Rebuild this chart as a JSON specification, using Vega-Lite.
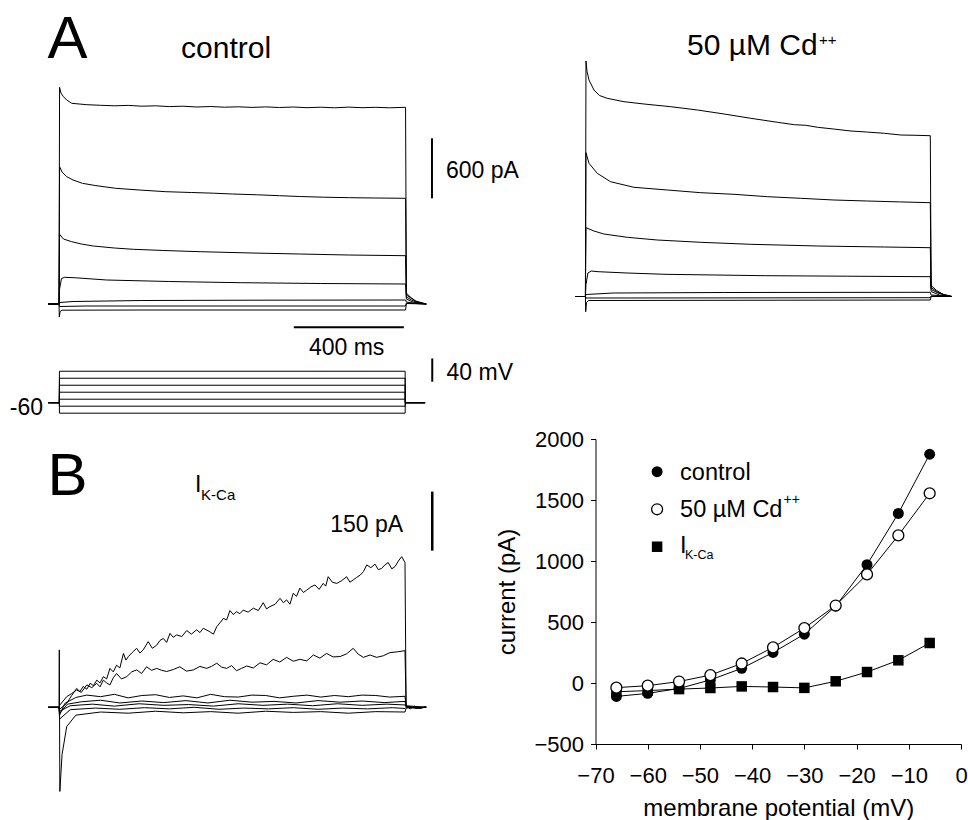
{
"$schema":"https://vega.github.io/schema/vega-lite/v6.json",
"width":968,"height":820,"padding":0,"autosize":{"type":"none"},
"background":"white",
"config":{"view":{"stroke":null},"text":{"font":"Liberation Sans","color":"black"},"axis":{"labelFont":"Liberation Sans","titleFont":"Liberation Sans"}},
"datasets":{
"ctrl":[
{"v":-6,"t":-40,"i":0},{"v":-6,"t":-1,"i":0},{"v":-6,"t":1,"i":2167},{"v":-6,"t":6,"i":2110},{"v":-6,"t":15,"i":2073},{"v":-6,"t":27,"i":2040},{"v":-6,"t":45,"i":2007},{"v":-6,"t":100,"i":1993},{"v":-6,"t":150,"i":1987},{"v":-6,"t":200,"i":1982},{"v":-6,"t":250,"i":1986},{"v":-6,"t":300,"i":1978},{"v":-6,"t":350,"i":1982},{"v":-6,"t":400,"i":1974},{"v":-6,"t":450,"i":1978},{"v":-6,"t":500,"i":1970},{"v":-6,"t":550,"i":1975},{"v":-6,"t":600,"i":1968},{"v":-6,"t":650,"i":1972},{"v":-6,"t":700,"i":1966},{"v":-6,"t":750,"i":1971},{"v":-6,"t":800,"i":1965},{"v":-6,"t":850,"i":1970},{"v":-6,"t":900,"i":1963},{"v":-6,"t":950,"i":1968},{"v":-6,"t":1000,"i":1962},{"v":-6,"t":1050,"i":1969},{"v":-6,"t":1100,"i":1963},{"v":-6,"t":1150,"i":1967},{"v":-6,"t":1200,"i":1962},{"v":-6,"t":1258,"i":1967},{"v":-6,"t":1261,"i":110},{"v":-6,"t":1275,"i":70},{"v":-6,"t":1295,"i":30},{"v":-6,"t":1333,"i":0},
{"v":-18,"t":-40,"i":0},{"v":-18,"t":-1,"i":0},{"v":-18,"t":1,"i":1373},{"v":-18,"t":10,"i":1320},{"v":-18,"t":27,"i":1273},{"v":-18,"t":50,"i":1240},{"v":-18,"t":84,"i":1207},{"v":-18,"t":130,"i":1185},{"v":-18,"t":205,"i":1157},{"v":-18,"t":290,"i":1140},{"v":-18,"t":387,"i":1123},{"v":-18,"t":480,"i":1115},{"v":-18,"t":560,"i":1108},{"v":-18,"t":630,"i":1100},{"v":-18,"t":720,"i":1092},{"v":-18,"t":800,"i":1083},{"v":-18,"t":873,"i":1075},{"v":-18,"t":960,"i":1068},{"v":-18,"t":1055,"i":1063},{"v":-18,"t":1150,"i":1060},{"v":-18,"t":1258,"i":1057},{"v":-18,"t":1261,"i":90},{"v":-18,"t":1280,"i":55},{"v":-18,"t":1300,"i":20},{"v":-18,"t":1333,"i":0},
{"v":-30,"t":-40,"i":0},{"v":-30,"t":-1,"i":0},{"v":-30,"t":1,"i":697},{"v":-30,"t":15,"i":650},{"v":-30,"t":45,"i":623},{"v":-30,"t":80,"i":600},{"v":-30,"t":124,"i":580},{"v":-30,"t":200,"i":560},{"v":-30,"t":269,"i":547},{"v":-30,"t":380,"i":535},{"v":-30,"t":512,"i":523},{"v":-30,"t":700,"i":510},{"v":-30,"t":873,"i":500},{"v":-30,"t":1050,"i":490},{"v":-30,"t":1258,"i":483},{"v":-30,"t":1261,"i":70},{"v":-30,"t":1280,"i":40},{"v":-30,"t":1300,"i":15},{"v":-30,"t":1333,"i":0},
{"v":-42,"t":-40,"i":0},{"v":-42,"t":-1,"i":0},{"v":-42,"t":1,"i":150},{"v":-42,"t":8,"i":255},{"v":-42,"t":20,"i":267},{"v":-42,"t":60,"i":262},{"v":-42,"t":172,"i":240},{"v":-42,"t":400,"i":225},{"v":-42,"t":657,"i":213},{"v":-42,"t":950,"i":205},{"v":-42,"t":1258,"i":200},{"v":-42,"t":1261,"i":50},{"v":-42,"t":1285,"i":20},{"v":-42,"t":1333,"i":0},
{"v":-54,"t":-40,"i":0},{"v":-54,"t":-1,"i":0},{"v":-54,"t":1,"i":15},{"v":-54,"t":50,"i":25},{"v":-54,"t":300,"i":35},{"v":-54,"t":700,"i":38},{"v":-54,"t":1258,"i":40},{"v":-54,"t":1261,"i":20},{"v":-54,"t":1300,"i":5},{"v":-54,"t":1333,"i":0},
{"v":-66,"t":-40,"i":0},{"v":-66,"t":-1,"i":0},{"v":-66,"t":1,"i":-25},{"v":-66,"t":100,"i":-20},{"v":-66,"t":1258,"i":-20},{"v":-66,"t":1261,"i":10},{"v":-66,"t":1333,"i":0},
{"v":-78,"t":-40,"i":0},{"v":-78,"t":-1,"i":0},{"v":-78,"t":0,"i":-130},{"v":-78,"t":3,"i":-75},{"v":-78,"t":10,"i":-62},{"v":-78,"t":300,"i":-60},{"v":-78,"t":1258,"i":-60},{"v":-78,"t":1261,"i":5},{"v":-78,"t":1333,"i":0}
],
"cd":[
{"v":-6,"t":-38,"i":0},{"v":-6,"t":-1,"i":0},{"v":-6,"t":1,"i":2355},{"v":-6,"t":5,"i":2250},{"v":-6,"t":12,"i":2165},{"v":-6,"t":30,"i":2065},{"v":-6,"t":50,"i":2010},{"v":-6,"t":78,"i":1982},{"v":-6,"t":139,"i":1948},{"v":-6,"t":212,"i":1925},{"v":-6,"t":309,"i":1898},{"v":-6,"t":406,"i":1865},{"v":-6,"t":503,"i":1825},{"v":-6,"t":600,"i":1782},{"v":-6,"t":697,"i":1742},{"v":-6,"t":758,"i":1718},{"v":-6,"t":800,"i":1712},{"v":-6,"t":843,"i":1692},{"v":-6,"t":900,"i":1675},{"v":-6,"t":964,"i":1655},{"v":-6,"t":1020,"i":1645},{"v":-6,"t":1085,"i":1632},{"v":-6,"t":1145,"i":1615},{"v":-6,"t":1200,"i":1612},{"v":-6,"t":1252,"i":1608},{"v":-6,"t":1255,"i":110},{"v":-6,"t":1275,"i":60},{"v":-6,"t":1300,"i":20},{"v":-6,"t":1330,"i":0},
{"v":-18,"t":-38,"i":0},{"v":-18,"t":-1,"i":0},{"v":-18,"t":1,"i":1438},{"v":-18,"t":12,"i":1332},{"v":-18,"t":42,"i":1232},{"v":-18,"t":90,"i":1148},{"v":-18,"t":175,"i":1092},{"v":-18,"t":297,"i":1065},{"v":-18,"t":418,"i":1038},{"v":-18,"t":539,"i":1022},{"v":-18,"t":660,"i":998},{"v":-18,"t":781,"i":982},{"v":-18,"t":902,"i":965},{"v":-18,"t":1023,"i":955},{"v":-18,"t":1140,"i":946},{"v":-18,"t":1252,"i":938},{"v":-18,"t":1255,"i":90},{"v":-18,"t":1275,"i":50},{"v":-18,"t":1300,"i":15},{"v":-18,"t":1330,"i":0},
{"v":-30,"t":-38,"i":0},{"v":-30,"t":-1,"i":0},{"v":-30,"t":1,"i":688},{"v":-30,"t":30,"i":655},{"v":-30,"t":66,"i":625},{"v":-30,"t":151,"i":592},{"v":-30,"t":260,"i":565},{"v":-30,"t":418,"i":542},{"v":-30,"t":600,"i":522},{"v":-30,"t":843,"i":505},{"v":-30,"t":1085,"i":495},{"v":-30,"t":1252,"i":488},{"v":-30,"t":1255,"i":70},{"v":-30,"t":1280,"i":35},{"v":-30,"t":1330,"i":0},
{"v":-42,"t":-38,"i":0},{"v":-42,"t":-1,"i":0},{"v":-42,"t":1,"i":120},{"v":-42,"t":8,"i":235},{"v":-42,"t":20,"i":255},{"v":-42,"t":45,"i":248},{"v":-42,"t":150,"i":235},{"v":-42,"t":288,"i":222},{"v":-42,"t":652,"i":208},{"v":-42,"t":950,"i":203},{"v":-42,"t":1252,"i":198},{"v":-42,"t":1255,"i":50},{"v":-42,"t":1285,"i":15},{"v":-42,"t":1330,"i":0},
{"v":-54,"t":-38,"i":0},{"v":-54,"t":-1,"i":0},{"v":-54,"t":1,"i":20},{"v":-54,"t":100,"i":35},{"v":-54,"t":500,"i":40},{"v":-54,"t":1252,"i":42},{"v":-54,"t":1255,"i":15},{"v":-54,"t":1330,"i":0},
{"v":-66,"t":-38,"i":0},{"v":-66,"t":-1,"i":0},{"v":-66,"t":1,"i":-15},{"v":-66,"t":1252,"i":-12},{"v":-66,"t":1255,"i":5},{"v":-66,"t":1330,"i":0},
{"v":-78,"t":-38,"i":0},{"v":-78,"t":-1,"i":0},{"v":-78,"t":0,"i":-152},{"v":-78,"t":3,"i":-60},{"v":-78,"t":10,"i":-40},{"v":-78,"t":1252,"i":-35},{"v":-78,"t":1255,"i":0},{"v":-78,"t":1330,"i":0}
],
"vp":[
{"v":-78,"t":-40,"mv":-60},{"v":-78,"t":0,"mv":-60},{"v":-78,"t":0.5,"mv":-78},{"v":-78,"t":1256.5,"mv":-78},{"v":-78,"t":1257,"mv":-60},{"v":-78,"t":1329,"mv":-60},
{"v":-66,"t":-40,"mv":-60},{"v":-66,"t":0,"mv":-60},{"v":-66,"t":0.5,"mv":-66},{"v":-66,"t":1256.5,"mv":-66},{"v":-66,"t":1257,"mv":-60},{"v":-66,"t":1329,"mv":-60},
{"v":-54,"t":-40,"mv":-60},{"v":-54,"t":0,"mv":-60},{"v":-54,"t":0.5,"mv":-54},{"v":-54,"t":1256.5,"mv":-54},{"v":-54,"t":1257,"mv":-60},{"v":-54,"t":1329,"mv":-60},
{"v":-42,"t":-40,"mv":-60},{"v":-42,"t":0,"mv":-60},{"v":-42,"t":0.5,"mv":-42},{"v":-42,"t":1256.5,"mv":-42},{"v":-42,"t":1257,"mv":-60},{"v":-42,"t":1329,"mv":-60},
{"v":-30,"t":-40,"mv":-60},{"v":-30,"t":0,"mv":-60},{"v":-30,"t":0.5,"mv":-30},{"v":-30,"t":1256.5,"mv":-30},{"v":-30,"t":1257,"mv":-60},{"v":-30,"t":1329,"mv":-60},
{"v":-18,"t":-40,"mv":-60},{"v":-18,"t":0,"mv":-60},{"v":-18,"t":0.5,"mv":-18},{"v":-18,"t":1256.5,"mv":-18},{"v":-18,"t":1257,"mv":-60},{"v":-18,"t":1329,"mv":-60},
{"v":-6,"t":-40,"mv":-60},{"v":-6,"t":0,"mv":-60},{"v":-6,"t":0.5,"mv":-6},{"v":-6,"t":1256.5,"mv":-6},{"v":-6,"t":1257,"mv":-60},{"v":-6,"t":1329,"mv":-60}
],
"ik":[
{"v":-6,"t":-40,"i":0},{"v":-6,"t":-1,"i":0},{"v":-6,"t":1,"i":-5},{"v":-6,"t":27,"i":10},{"v":-6,"t":45,"i":30},{"v":-6,"t":63,"i":48},{"v":-6,"t":75,"i":40},{"v":-6,"t":87,"i":53},{"v":-6,"t":100,"i":46},{"v":-6,"t":112,"i":61},{"v":-6,"t":124,"i":55},{"v":-6,"t":136,"i":69},{"v":-6,"t":148,"i":62},{"v":-6,"t":160,"i":78},{"v":-6,"t":172,"i":72},{"v":-6,"t":184,"i":99},{"v":-6,"t":196,"i":90},{"v":-6,"t":208,"i":107},{"v":-6,"t":220,"i":100},{"v":-6,"t":233,"i":137},{"v":-6,"t":242,"i":120},{"v":-6,"t":251,"i":129},{"v":-6,"t":266,"i":140},{"v":-6,"t":281,"i":150},{"v":-6,"t":293,"i":138},{"v":-6,"t":305,"i":146},{"v":-6,"t":323,"i":167},{"v":-6,"t":338,"i":150},{"v":-6,"t":354,"i":158},{"v":-6,"t":366,"i":170},{"v":-6,"t":378,"i":175},{"v":-6,"t":390,"i":165},{"v":-6,"t":402,"i":188},{"v":-6,"t":414,"i":178},{"v":-6,"t":426,"i":184},{"v":-6,"t":445,"i":180},{"v":-6,"t":463,"i":195},{"v":-6,"t":480,"i":186},{"v":-6,"t":499,"i":197},{"v":-6,"t":511,"i":190},{"v":-6,"t":523,"i":201},{"v":-6,"t":547,"i":192},{"v":-6,"t":560,"i":186},{"v":-6,"t":572,"i":205},{"v":-6,"t":584,"i":215},{"v":-6,"t":596,"i":226},{"v":-6,"t":608,"i":222},{"v":-6,"t":620,"i":246},{"v":-6,"t":632,"i":236},{"v":-6,"t":644,"i":243},{"v":-6,"t":656,"i":238},{"v":-6,"t":668,"i":247},{"v":-6,"t":686,"i":242},{"v":-6,"t":705,"i":252},{"v":-6,"t":723,"i":246},{"v":-6,"t":741,"i":266},{"v":-6,"t":753,"i":250},{"v":-6,"t":765,"i":256},{"v":-6,"t":784,"i":262},{"v":-6,"t":802,"i":277},{"v":-6,"t":814,"i":266},{"v":-6,"t":826,"i":273},{"v":-6,"t":838,"i":262},{"v":-6,"t":850,"i":290},{"v":-6,"t":862,"i":282},{"v":-6,"t":874,"i":303},{"v":-6,"t":887,"i":292},{"v":-6,"t":899,"i":298},{"v":-6,"t":914,"i":306},{"v":-6,"t":929,"i":311},{"v":-6,"t":944,"i":300},{"v":-6,"t":959,"i":315},{"v":-6,"t":968,"i":308},{"v":-6,"t":977,"i":332},{"v":-6,"t":992,"i":318},{"v":-6,"t":1008,"i":315},{"v":-6,"t":1026,"i":322},{"v":-6,"t":1044,"i":332},{"v":-6,"t":1056,"i":318},{"v":-6,"t":1068,"i":324},{"v":-6,"t":1080,"i":330},{"v":-6,"t":1093,"i":336},{"v":-6,"t":1105,"i":345},{"v":-6,"t":1117,"i":362},{"v":-6,"t":1132,"i":355},{"v":-6,"t":1147,"i":364},{"v":-6,"t":1159,"i":350},{"v":-6,"t":1171,"i":353},{"v":-6,"t":1183,"i":362},{"v":-6,"t":1195,"i":368},{"v":-6,"t":1208,"i":352},{"v":-6,"t":1220,"i":358},{"v":-6,"t":1232,"i":372},{"v":-6,"t":1244,"i":383},{"v":-6,"t":1256,"i":368},{"v":-6,"t":1260,"i":5},{"v":-6,"t":1275,"i":-4},{"v":-6,"t":1290,"i":3},{"v":-6,"t":1310,"i":-3},{"v":-6,"t":1333,"i":2},
{"v":-18,"t":-40,"i":0},{"v":-18,"t":-1,"i":0},{"v":-18,"t":1,"i":5},{"v":-18,"t":27,"i":27},{"v":-18,"t":45,"i":35},{"v":-18,"t":63,"i":44},{"v":-18,"t":80,"i":38},{"v":-18,"t":100,"i":57},{"v":-18,"t":118,"i":50},{"v":-18,"t":136,"i":61},{"v":-18,"t":148,"i":52},{"v":-18,"t":160,"i":69},{"v":-18,"t":172,"i":62},{"v":-18,"t":184,"i":57},{"v":-18,"t":196,"i":75},{"v":-18,"t":208,"i":86},{"v":-18,"t":226,"i":72},{"v":-18,"t":245,"i":78},{"v":-18,"t":263,"i":90},{"v":-18,"t":281,"i":95},{"v":-18,"t":299,"i":86},{"v":-18,"t":317,"i":103},{"v":-18,"t":335,"i":94},{"v":-18,"t":354,"i":99},{"v":-18,"t":372,"i":94},{"v":-18,"t":390,"i":91},{"v":-18,"t":414,"i":96},{"v":-18,"t":438,"i":103},{"v":-18,"t":462,"i":92},{"v":-18,"t":487,"i":95},{"v":-18,"t":511,"i":104},{"v":-18,"t":535,"i":99},{"v":-18,"t":553,"i":104},{"v":-18,"t":572,"i":112},{"v":-18,"t":590,"i":102},{"v":-18,"t":608,"i":99},{"v":-18,"t":626,"i":106},{"v":-18,"t":644,"i":93},{"v":-18,"t":662,"i":99},{"v":-18,"t":681,"i":105},{"v":-18,"t":705,"i":100},{"v":-18,"t":729,"i":113},{"v":-18,"t":753,"i":108},{"v":-18,"t":777,"i":122},{"v":-18,"t":801,"i":115},{"v":-18,"t":826,"i":127},{"v":-18,"t":850,"i":117},{"v":-18,"t":874,"i":122},{"v":-18,"t":899,"i":118},{"v":-18,"t":923,"i":133},{"v":-18,"t":947,"i":125},{"v":-18,"t":971,"i":137},{"v":-18,"t":995,"i":128},{"v":-18,"t":1020,"i":129},{"v":-18,"t":1044,"i":136},{"v":-18,"t":1068,"i":150},{"v":-18,"t":1086,"i":135},{"v":-18,"t":1105,"i":127},{"v":-18,"t":1129,"i":133},{"v":-18,"t":1153,"i":127},{"v":-18,"t":1177,"i":131},{"v":-18,"t":1201,"i":139},{"v":-18,"t":1228,"i":141},{"v":-18,"t":1256,"i":144},{"v":-18,"t":1260,"i":3},{"v":-18,"t":1300,"i":-2},{"v":-18,"t":1333,"i":1},
{"v":-30,"t":-40,"i":0},{"v":-30,"t":-1,"i":0},{"v":-30,"t":1,"i":-20},{"v":-30,"t":20,"i":10},{"v":-30,"t":60,"i":25},{"v":-30,"t":100,"i":31},{"v":-30,"t":150,"i":27},{"v":-30,"t":200,"i":33},{"v":-30,"t":250,"i":24},{"v":-30,"t":300,"i":30},{"v":-30,"t":350,"i":32},{"v":-30,"t":400,"i":25},{"v":-30,"t":450,"i":29},{"v":-30,"t":500,"i":24},{"v":-30,"t":550,"i":33},{"v":-30,"t":600,"i":27},{"v":-30,"t":650,"i":26},{"v":-30,"t":700,"i":31},{"v":-30,"t":750,"i":30},{"v":-30,"t":800,"i":24},{"v":-30,"t":850,"i":28},{"v":-30,"t":900,"i":31},{"v":-30,"t":950,"i":26},{"v":-30,"t":1000,"i":30},{"v":-30,"t":1050,"i":27},{"v":-30,"t":1100,"i":31},{"v":-30,"t":1150,"i":30},{"v":-30,"t":1200,"i":26},{"v":-30,"t":1256,"i":28},{"v":-30,"t":1260,"i":2},{"v":-30,"t":1300,"i":-3},{"v":-30,"t":1333,"i":0},
{"v":-42,"t":-40,"i":0},{"v":-42,"t":-1,"i":0},{"v":-42,"t":1,"i":-15},{"v":-42,"t":30,"i":8},{"v":-42,"t":80,"i":14},{"v":-42,"t":150,"i":18},{"v":-42,"t":220,"i":11},{"v":-42,"t":300,"i":16},{"v":-42,"t":380,"i":12},{"v":-42,"t":460,"i":17},{"v":-42,"t":540,"i":11},{"v":-42,"t":620,"i":18},{"v":-42,"t":700,"i":13},{"v":-42,"t":780,"i":15},{"v":-42,"t":860,"i":11},{"v":-42,"t":940,"i":17},{"v":-42,"t":1020,"i":13},{"v":-42,"t":1100,"i":16},{"v":-42,"t":1180,"i":12},{"v":-42,"t":1256,"i":15},{"v":-42,"t":1260,"i":4},{"v":-42,"t":1333,"i":0},
{"v":-54,"t":-40,"i":0},{"v":-54,"t":-1,"i":0},{"v":-54,"t":1,"i":-10},{"v":-54,"t":40,"i":4},{"v":-54,"t":120,"i":8},{"v":-54,"t":200,"i":3},{"v":-54,"t":290,"i":9},{"v":-54,"t":380,"i":5},{"v":-54,"t":470,"i":7},{"v":-54,"t":560,"i":3},{"v":-54,"t":650,"i":9},{"v":-54,"t":740,"i":5},{"v":-54,"t":830,"i":8},{"v":-54,"t":920,"i":4},{"v":-54,"t":1010,"i":9},{"v":-54,"t":1100,"i":5},{"v":-54,"t":1190,"i":8},{"v":-54,"t":1256,"i":6},{"v":-54,"t":1260,"i":1},{"v":-54,"t":1333,"i":0},
{"v":-66,"t":-40,"i":0},{"v":-66,"t":-1,"i":0},{"v":-66,"t":1,"i":-30},{"v":-66,"t":40,"i":-6},{"v":-66,"t":130,"i":-2},{"v":-66,"t":220,"i":-5},{"v":-66,"t":310,"i":-1},{"v":-66,"t":400,"i":-4},{"v":-66,"t":490,"i":0},{"v":-66,"t":580,"i":-5},{"v":-66,"t":670,"i":-2},{"v":-66,"t":760,"i":-4},{"v":-66,"t":850,"i":-1},{"v":-66,"t":940,"i":-5},{"v":-66,"t":1030,"i":-2},{"v":-66,"t":1120,"i":-4},{"v":-66,"t":1210,"i":-1},{"v":-66,"t":1256,"i":-3},{"v":-66,"t":1260,"i":0},{"v":-66,"t":1333,"i":0},
{"v":-78,"t":-40,"i":0},{"v":-78,"t":-1,"i":0},{"v":-78,"t":0,"i":146},{"v":-78,"t":2,"i":-214},{"v":-78,"t":10,"i":-120},{"v":-78,"t":27,"i":-49},{"v":-78,"t":60,"i":-20},{"v":-78,"t":150,"i":-12},{"v":-78,"t":250,"i":-15},{"v":-78,"t":350,"i":-10},{"v":-78,"t":450,"i":-14},{"v":-78,"t":550,"i":-11},{"v":-78,"t":650,"i":-15},{"v":-78,"t":750,"i":-10},{"v":-78,"t":850,"i":-13},{"v":-78,"t":950,"i":-11},{"v":-78,"t":1050,"i":-15},{"v":-78,"t":1150,"i":-11},{"v":-78,"t":1256,"i":-12},{"v":-78,"t":1260,"i":-2},{"v":-78,"t":1333,"i":0}
],
"iv":[
{"s":"control","vm":-66,"cur":-110},{"s":"control","vm":-60,"cur":-85},{"s":"control","vm":-54,"cur":-45},{"s":"control","vm":-48,"cur":25},{"s":"control","vm":-42,"cur":120},{"s":"control","vm":-36,"cur":250},{"s":"control","vm":-30,"cur":400},{"s":"control","vm":-24,"cur":630},{"s":"control","vm":-18,"cur":970},{"s":"control","vm":-12,"cur":1390},{"s":"control","vm":-6,"cur":1875},
{"s":"cd","vm":-66,"cur":-38},{"s":"cd","vm":-60,"cur":-22},{"s":"cd","vm":-54,"cur":12},{"s":"cd","vm":-48,"cur":65},{"s":"cd","vm":-42,"cur":160},{"s":"cd","vm":-36,"cur":292},{"s":"cd","vm":-30,"cur":450},{"s":"cd","vm":-24,"cur":635},{"s":"cd","vm":-18,"cur":890},{"s":"cd","vm":-12,"cur":1210},{"s":"cd","vm":-6,"cur":1555},
{"s":"ikca","vm":-66,"cur":-72},{"s":"ikca","vm":-60,"cur":-62},{"s":"ikca","vm":-54,"cur":-50},{"s":"ikca","vm":-48,"cur":-41},{"s":"ikca","vm":-42,"cur":-28},{"s":"ikca","vm":-36,"cur":-33},{"s":"ikca","vm":-30,"cur":-40},{"s":"ikca","vm":-24,"cur":14},{"s":"ikca","vm":-18,"cur":90},{"s":"ikca","vm":-12,"cur":186},{"s":"ikca","vm":-6,"cur":328}
]
},
"resolve":{"scale":{"x":"independent","y":"independent"}},
"layer":[
{
"encoding":{
"x":{"field":"t","type":"quantitative","scale":{"domain":[0,1260],"range":[59.3,406.1],"nice":false,"zero":false},"axis":null},
"y":{"field":"i","type":"quantitative","scale":{"domain":[0,2000],"range":[304,104],"nice":false,"zero":false},"axis":null}
},
"layer":[
{"data":{"name":"ctrl"},"mark":{"type":"line","color":"black","strokeWidth":1},"encoding":{"detail":{"field":"v","type":"nominal"}}},
{"data":{"values":[{"t":30,"i":2460,"s":"A"}]},"mark":{"type":"text","fontSize":60,"align":"center","baseline":"alphabetic"},"encoding":{"text":{"field":"s"}}},
{"data":{"values":[{"t":606,"i":2460,"s":"control"}]},"mark":{"type":"text","fontSize":30,"align":"center","baseline":"alphabetic"},"encoding":{"text":{"field":"s"}}},
{"data":{"values":[{"t":1354,"t2":1354,"i":1057,"i2":1657},{"t":852,"t2":1252,"i":-233,"i2":-233}]},"mark":{"type":"rule","color":"black","strokeWidth":2},"encoding":{"x2":{"field":"t2"},"y2":{"field":"i2"}}},
{"data":{"values":[{"t":1405,"i":1257,"s":"600 pA"}]},"mark":{"type":"text","fontSize":23,"align":"left","baseline":"alphabetic"},"encoding":{"text":{"field":"s"}}},
{"data":{"values":[{"t":1044,"i":-510,"s":"400 ms"}]},"mark":{"type":"text","fontSize":23,"align":"center","baseline":"alphabetic"},"encoding":{"text":{"field":"s"}}}
]
},
{
"encoding":{
"x":{"field":"t","type":"quantitative","scale":{"domain":[0,1260],"range":[585.7,932.5],"nice":false,"zero":false},"axis":null},
"y":{"field":"i","type":"quantitative","scale":{"domain":[0,2000],"range":[296.5,96.5],"nice":false,"zero":false},"axis":null}
},
"layer":[
{"data":{"name":"cd"},"mark":{"type":"line","color":"black","strokeWidth":1},"encoding":{"detail":{"field":"v","type":"nominal"}}},
{"data":{"values":[{"t":368,"i":2415,"s":"50 µM Cd"}]},"mark":{"type":"text","fontSize":30,"align":"left","baseline":"alphabetic"},"encoding":{"text":{"field":"s"}}},
{"data":{"values":[{"t":848,"i":2519,"s":"++"}]},"mark":{"type":"text","fontSize":15,"align":"left","baseline":"alphabetic"},"encoding":{"text":{"field":"s"}}}
]
},
{
"encoding":{
"x":{"field":"t","type":"quantitative","scale":{"domain":[0,1260],"range":[59.3,406.1],"nice":false,"zero":false},"axis":null},
"y":{"field":"mv","type":"quantitative","scale":{"domain":[-60,-20],"range":[402.7,379.4],"nice":false,"zero":false},"axis":null}
},
"layer":[
{"data":{"name":"vp"},"mark":{"type":"line","color":"black","strokeWidth":1},"encoding":{"detail":{"field":"v","type":"nominal"}}},
{"data":{"values":[{"t":1355,"t2":1355,"mv":-24,"mv2":16}]},"mark":{"type":"rule","color":"black","strokeWidth":2},"encoding":{"x2":{"field":"t2"},"y2":{"field":"mv2"}}},
{"data":{"values":[{"t":1407,"mv":-21,"s":"40 mV"}]},"mark":{"type":"text","fontSize":23,"align":"left","baseline":"alphabetic"},"encoding":{"text":{"field":"s"}}},
{"data":{"values":[{"t":-58.8,"mv":-81.1,"s":"-60"}]},"mark":{"type":"text","fontSize":23,"align":"right","baseline":"alphabetic"},"encoding":{"text":{"field":"s"}}}
]
},
{
"encoding":{
"x":{"field":"t","type":"quantitative","scale":{"domain":[0,1260],"range":[59.3,406.1],"nice":false,"zero":false},"axis":null},
"y":{"field":"i","type":"quantitative","scale":{"domain":[0,150],"range":[707.3,648.3],"nice":false,"zero":false},"axis":null}
},
"layer":[
{"data":{"name":"ik"},"mark":{"type":"line","color":"black","strokeWidth":1},"encoding":{"detail":{"field":"v","type":"nominal"}}},
{"data":{"values":[{"t":30,"i":540,"s":"B"}]},"mark":{"type":"text","fontSize":60,"align":"center","baseline":"alphabetic"},"encoding":{"text":{"field":"s"}}},
{"data":{"values":[{"t":493,"i":548,"s":"I"}]},"mark":{"type":"text","fontSize":23,"align":"left","baseline":"alphabetic"},"encoding":{"text":{"field":"s"}}},
{"data":{"values":[{"t":515,"i":527,"s":"K-Ca"}]},"mark":{"type":"text","fontSize":15,"align":"left","baseline":"alphabetic"},"encoding":{"text":{"field":"s"}}},
{"data":{"values":[{"t":1355,"t2":1355,"i":398.3,"i2":548.3}]},"mark":{"type":"rule","color":"black","strokeWidth":2.5},"encoding":{"x2":{"field":"t2"},"y2":{"field":"i2"}}},
{"data":{"values":[{"t":1249,"i":446.5,"s":"150 pA"}]},"mark":{"type":"text","fontSize":23,"align":"right","baseline":"alphabetic"},"encoding":{"text":{"field":"s"}}}
]
},
{
"encoding":{
"x":{"field":"vm","type":"quantitative","scale":{"domain":[-70,0],"range":[595.5,961],"nice":false,"zero":false},
 "axis":{"orient":"bottom","offset":-76,"values":[-70,-60,-50,-40,-30,-20,-10,0],"format":"d","title":"membrane potential (mV)","grid":false,"domainColor":"black","domainWidth":1,"tickColor":"black","tickSize":5,"tickWidth":1,"labelColor":"black","labelFontSize":22,"labelPadding":16,"labelFlush":false,"labelOverlap":false,"labelBound":false,"titleColor":"black","titleFontSize":24,"titleFontWeight":"normal","titlePadding":10}},
"y":{"field":"cur","type":"quantitative","scale":{"domain":[-500,2000],"range":[744,439],"nice":false,"zero":false},
 "axis":{"orient":"left","offset":-595.5,"values":[-500,0,500,1000,1500,2000],"format":"d","title":"current (pA)","grid":false,"domainColor":"black","domainWidth":1,"tickColor":"black","tickSize":5,"tickWidth":1,"labelColor":"black","labelFontSize":22,"labelPadding":7,"labelFlush":false,"labelOverlap":false,"labelBound":false,"titleColor":"black","titleFontSize":24,"titleFontWeight":"normal","titlePadding":14}}
},
"layer":[
{"data":{"name":"iv"},"mark":{"type":"line","color":"black","strokeWidth":1},"encoding":{"detail":{"field":"s","type":"nominal"}}},
{"data":{"name":"iv"},"transform":[{"filter":"datum.s === 'ikca'"}],"mark":{"type":"point","shape":"square","filled":true,"color":"black","size":110,"opacity":1}},
{"data":{"name":"iv"},"transform":[{"filter":"datum.s === 'control'"}],"mark":{"type":"point","shape":"circle","filled":true,"color":"black","size":120,"opacity":1}},
{"data":{"name":"iv"},"transform":[{"filter":"datum.s === 'cd'"}],"mark":{"type":"point","shape":"circle","filled":true,"fill":"white","stroke":"black","strokeWidth":1.3,"size":120,"opacity":1}},
{"data":{"values":[{"vm":-58.2,"cur":1732}]},"mark":{"type":"point","shape":"circle","filled":true,"color":"black","size":120,"opacity":1}},
{"data":{"values":[{"vm":-58.2,"cur":1424}]},"mark":{"type":"point","shape":"circle","filled":true,"fill":"white","stroke":"black","strokeWidth":1.3,"size":120,"opacity":1}},
{"data":{"values":[{"vm":-58.2,"cur":1117}]},"mark":{"type":"point","shape":"square","filled":true,"color":"black","size":110,"opacity":1}},
{"data":{"values":[{"vm":-53.8,"cur":1664,"s":"control"},{"vm":-53.8,"cur":1363,"s":"50 µM Cd"},{"vm":-53.8,"cur":1063,"s":"I"}]},"mark":{"type":"text","fontSize":23.5,"align":"left","baseline":"alphabetic"},"encoding":{"text":{"field":"s"}}},
{"data":{"values":[{"vm":-34.0,"cur":1465,"s":"++"}]},"mark":{"type":"text","fontSize":14,"align":"left","baseline":"alphabetic"},"encoding":{"text":{"field":"s"}}},
{"data":{"values":[{"vm":-52.86,"cur":1016,"s":"K-Ca"}]},"mark":{"type":"text","fontSize":12.5,"align":"left","baseline":"alphabetic"},"encoding":{"text":{"field":"s"}}}
]
}
]
}
